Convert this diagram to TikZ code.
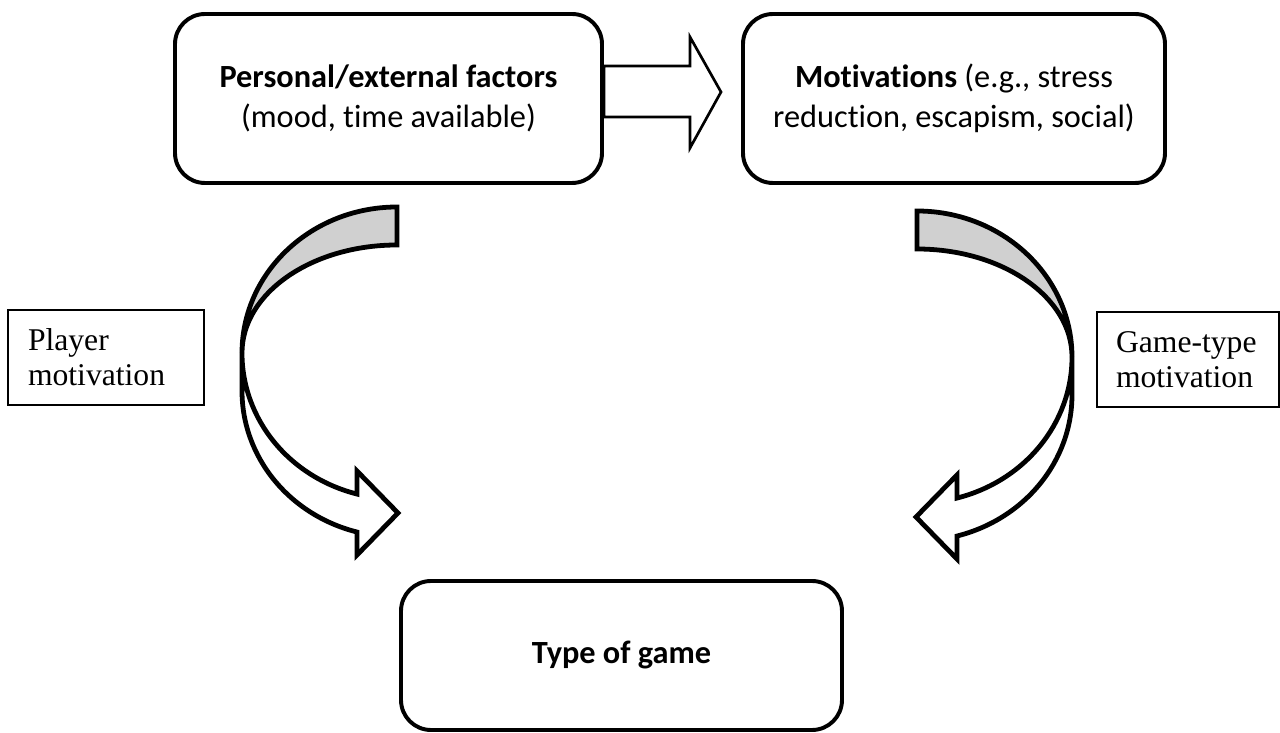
\documentclass[tikz,border=0pt]{standalone}
\usepackage{fontspec}
\setmainfont{Liberation Serif}
\newfontfamily\boxfont[Ligatures={NoCommon,NoRare,NoContextual}, Contextuals=NoAlternate]{Carlito}
\usepackage{xcolor}
\usepackage{tikz}
\usetikzlibrary{positioning,calc}

\definecolor{bandgray}{RGB}{208,208,208}

\tikzset{
  factorbox/.style={draw, line width=2.8pt, rounded corners=0.75cm, align=center,
    font=\boxfont\fontsize{23}{28.5}\selectfont},
  labelbox/.style={draw, line width=1pt, align=left, inner ysep=0pt,
    minimum height=2.375cm, font=\fontsize{22.5}{25}\selectfont},
  hollowarrow/.style={draw, fill=white, line width=1.9pt, line join=miter},
  bandwhite/.style={draw, fill=white, line width=3.4pt, line join=miter},
  bandgrey/.style={draw, fill=bandgray, line width=3.4pt}
}

% curved band arrow, origin at the centre of its ellipse
\newcommand{\gamebend}{%
  \path[bandwhite] (-3.875,0) arc[start angle=180, end angle=255.04, x radius=3.875, y radius=3.65]
    -- (-1,-2.95) -- (0.025,-4.0) -- (-1,-5.05) -- (-1,-4.476)
    arc[start angle=255.04, end angle=180, x radius=3.875, y radius=3.65] -- cycle;
  \path[bandgrey] (0,3.65) arc[start angle=90, end angle=180, x radius=3.875, y radius=3.65]
    arc[start angle=180, end angle=90, x radius=3.875, y radius=2.7] -- cycle;
}

\begin{document}
\begin{tikzpicture}
    \useasboundingbox (0,0) rectangle (32,18.325);

    % Top boxes (\kern0pt keeps t and i apart)
    \node[factorbox, minimum width=10.675cm, minimum height=4.225cm] (pers) at (9.7125,15.8625)
        {\textbf{Personal/external factors}\\(mood, t\kern0pt ime available)};
    \node[factorbox, minimum width=10.55cm, minimum height=4.225cm] (motiv) at (23.85,15.8625)
        {\textbf{Motivat\kern0pt ions} (e.g., stress\\reduct\kern0pt ion, escapism, social)};

    % Bottom box
    \node[factorbox, minimum width=11.025cm, minimum height=3.725cm] (game) at (15.5375,1.9375)
        {\textbf{Type of game}};

    % Block arrow between the top boxes
    \path[hollowarrow] (pers.east |- 0,16.675) -- (17.25,16.675) -- (17.25,17.4)
        -- (18.025,16.025) -- (17.25,14.625) -- (17.25,15.4) -- (pers.east |- 0,15.4) -- cycle;

    % Curved arrows
    \begin{scope}[shift={(9.925,9.5)}]
        \gamebend
    \end{scope}
    \begin{scope}[shift={(22.925,9.4)}, xscale=-1]
        \gamebend
    \end{scope}

    % Side labels
    \node[labelbox, text width=3.9cm, inner xsep=0.5cm] (player) at (2.65,9.3875)
        {Player\\motivation};
    \node[labelbox, text width=3.6cm, inner xsep=0.475cm] (gtype) at (29.7,9.3375)
        {Game-type\\motivation};
\end{tikzpicture}
\end{document}
